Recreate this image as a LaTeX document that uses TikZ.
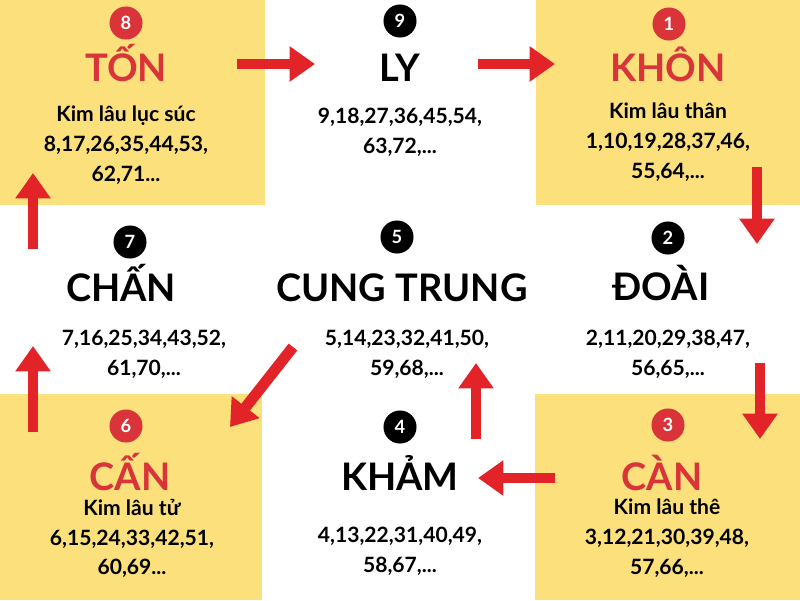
\documentclass[tikz,border=0pt]{standalone}
\usepackage{fontspec}
\setmainfont{Lato}
\usepackage{tikz}
\usetikzlibrary{arrows.meta,positioning}

\definecolor{cellyellow}{RGB}{251,224,124}
\definecolor{arrowred}{RGB}{226,36,40}
\definecolor{titlered}{RGB}{217,52,58}

\begin{document}
\begin{tikzpicture}[x=0.025cm, y=-0.025cm,
  num/.style={circle, fill=#1, text=white, inner sep=0pt, minimum size=23.5pt,
    font=\fontsize{13}{13}\selectfont\bfseries},
  title/.style={anchor=base, inner sep=0pt, text=#1,
    font=\fontsize{27}{30}\selectfont\bfseries},
  body/.style={anchor=north, inner sep=0pt, align=center,
    font=\fontsize{15}{21}\selectfont\bfseries},
  flow/.style={draw=arrowred, line width=7.8pt, -{Triangle[width=24pt,length=18pt]}}]

  \useasboundingbox (0,0) rectangle (800,600);

  % Yellow corner cells
  \fill[cellyellow] (0,0) rectangle (265,205);
  \fill[cellyellow] (536,0) rectangle (800,205);
  \fill[cellyellow] (0,394) rectangle (262,600);
  \fill[cellyellow] (535,394) rectangle (800,600);

  % Top row
  \node[num=titlered] (n8) at (126,23) {8};
  \node[title=titlered] (ton) at (126,81) {TỐN};
  \node[body] (tonb) at (126,106) {Kim lâu lục súc\\8,17,26,35,44,53,\\62,71...};

  \node[num=black] (n9) at (400,21) {9};
  \node[title=black] (ly) at (400,81) {LY};
  \node[body] (lyb) at (400,108) {9,18,27,36,45,54,\\63,72,...};

  \node[num=titlered] (n1) at (669,24) {1};
  \node[title=titlered] (khon) at (668,81) {KHÔN};
  \node[body] (khonb) at (668,103) {Kim lâu thân\\1,10,19,28,37,46,\\55,64,...};

  % Middle row
  \node[num=black] (n7) at (130,242) {7};
  \node[title=black] (chan) at (121,301) {CHẤN};
  \node[body] (chanb) at (144,330) {7,16,25,34,43,52,\\61,70,...};

  \node[num=black] (n5) at (397,237) {5};
  \node[title=black] (trung) at (402,301) {CUNG TRUNG};
  \node[body] (trungb) at (407,330) {5,14,23,32,41,50,\\59,68,...};

  \node[num=black] (n2) at (668,238) {2};
  \node[title=black] (doai) at (661,300) {ĐOÀI};
  \node[body] (doaib) at (668,330) {2,11,20,29,38,47,\\56,65,...};

  % Bottom row
  \node[num=titlered] (n6) at (126,426) {6};
  \node[title=titlered] (can6) at (130,490) {CẤN};
  \node[body] (can6b) at (132,499) {Kim lâu tử\\6,15,24,33,42,51,\\60,69...};

  \node[num=black] (n4) at (400,427) {4};
  \node[title=black] (kham) at (400,490) {KHẢM};
  \node[body] (khamb) at (400,527) {4,13,22,31,40,49,\\58,67,...};

  \node[num=titlered] (n3) at (668,425) {3};
  \node[title=titlered] (can3) at (662,490) {CÀN};
  \node[body] (can3b) at (667,499) {Kim lâu thê\\3,12,21,30,39,48,\\57,66,...};

  % Arrow ends
  \coordinate (a1) at (237,64);   \coordinate (b1) at (315,64);
  \coordinate (a2) at (478,64);   \coordinate (b2) at (555,64);
  \coordinate (a3) at (757,167);  \coordinate (b3) at (757,244);
  \coordinate (a4) at (760,363);  \coordinate (b4) at (760,439);
  \coordinate (a5) at (555,478);  \coordinate (b5) at (478,478);
  \coordinate (a6) at (476,439);  \coordinate (b6) at (476,363);
  \coordinate (a7) at (293,347);  \coordinate (b7) at (230,427);
  \coordinate (a8) at (33,432);   \coordinate (b8) at (33,346);
  \coordinate (a9) at (33,249);   \coordinate (b9) at (33,173);

  % Flow arrows
  \foreach \i in {1,...,9}
    \draw[flow] (a\i) -- (b\i);

\end{tikzpicture}
\end{document}
